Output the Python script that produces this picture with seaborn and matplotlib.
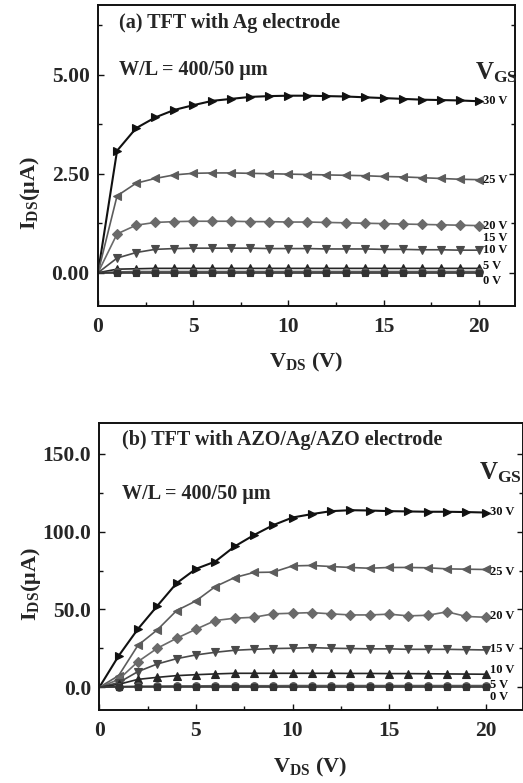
import numpy as np
import matplotlib
matplotlib.use("Agg")
import matplotlib.pyplot as plt
import seaborn as sns

# V_DS sweep (V)
vds = list(range(0, 21))
gate_labels = ["30 V", "25 V", "20 V", "15 V", "10 V", "5 V", "0 V"]

# (a) Ag electrode, I_DS in uA
ag_30 = [0, 3.08, 3.65, 3.92, 4.11, 4.23, 4.34, 4.39, 4.44, 4.46, 4.47, 4.47,
         4.46, 4.45, 4.43, 4.41, 4.39, 4.37, 4.36, 4.35, 4.33]
ag_25 = [0, 1.94, 2.26, 2.38, 2.47, 2.51, 2.52, 2.52, 2.51, 2.50, 2.49, 2.48,
         2.47, 2.46, 2.45, 2.43, 2.42, 2.40, 2.38, 2.36, 2.35]
ag_20 = [0, 0.98, 1.20, 1.27, 1.29, 1.30, 1.30, 1.30, 1.29, 1.29, 1.28, 1.28,
         1.27, 1.26, 1.25, 1.24, 1.23, 1.22, 1.21, 1.20, 1.19]
ag_15 = [0, 0.37, 0.51, 0.59, 0.61, 0.62, 0.62, 0.62, 0.62, 0.61, 0.61, 0.61,
         0.60, 0.60, 0.60, 0.59, 0.59, 0.58, 0.58, 0.57, 0.57]
ag_10 = [0, 0.09, 0.10, 0.11, 0.11, 0.11, 0.11, 0.11, 0.11, 0.11, 0.11, 0.11,
         0.11, 0.11, 0.11, 0.11, 0.11, 0.11, 0.11, 0.11, 0.11]
ag_5 = [0, 0.02, 0.03, 0.03, 0.03, 0.03, 0.03, 0.03, 0.03, 0.03, 0.03, 0.03,
        0.03, 0.03, 0.03, 0.03, 0.03, 0.03, 0.03, 0.03, 0.03]
ag_0 = [0] * 21

# (b) AZO/Ag/AZO electrode, I_DS in uA
azo_30 = [0, 20.2, 37.5, 52.3, 66.9, 76.1, 80.8, 90.5, 97.8, 104.2, 109.1, 111.3,
          113.2, 113.8, 113.6, 113.2, 113.0, 112.8, 112.8, 112.6, 112.3]
azo_25 = [0, 7.5, 27.0, 36.9, 49.3, 55.5, 64.7, 70.5, 73.8, 74.0, 78.0, 78.3,
          77.6, 77.0, 76.5, 77.0, 77.0, 76.8, 76.1, 75.9, 75.7]
azo_20 = [0, 5.0, 16.5, 25.1, 31.5, 37.3, 42.9, 44.4, 45.0, 47.2, 47.6, 48.0,
          47.2, 46.5, 46.5, 47.0, 45.9, 46.3, 48.5, 45.5, 45.0]
azo_15 = [0, 3.0, 10.1, 15.0, 18.4, 20.8, 22.5, 23.8, 24.4, 24.9, 25.1, 25.5,
          25.1, 24.9, 24.7, 24.7, 24.4, 24.4, 24.4, 24.2, 24.0]
azo_10 = [0, 1.9, 5.1, 6.4, 7.5, 8.1, 8.6, 9.0, 9.0, 9.0, 9.0, 9.0,
          9.0, 8.9, 8.9, 8.8, 8.8, 8.7, 8.6, 8.5, 8.4]
azo_5 = [0, 0.5, 0.7, 0.8, 0.9, 0.9, 1.0, 1.0, 1.0, 1.0, 1.1, 1.1,
         1.1, 1.1, 1.1, 1.1, 1.1, 1.1, 1.1, 1.1, 1.1]
azo_0 = [0] * 21

ag_series = [ag_30, ag_25, ag_20, ag_15, ag_10, ag_5, ag_0]
azo_series = [azo_30, azo_25, azo_20, azo_15, azo_10, azo_5, azo_0]

markers = [">", "<", "D", "v", "^", "o", "s"]
colors = ["#111111", "#5c5c5c", "#6a6a6a", "#4a4a4a", "#262626", "#555555", "#333333"]
msizes = [6, 6, 5, 6, 6, 5.5, 5]

# where the V_GS labels sit at the right end
ag_label_y = [4.33, 2.34, 1.19, 0.87, 0.57, 0.18, -0.20]
azo_label_y = [112.8, 73.8, 45.7, 24.4, 11.1, 1.7, -6.0]

sns.set_theme(style="ticks")
plt.rcParams["font.family"] = ["Liberation Serif", "DejaVu Serif"]
plt.rcParams["font.weight"] = "bold"
plt.rcParams["mathtext.fontset"] = "custom"
plt.rcParams["mathtext.rm"] = "Liberation Serif:bold"
plt.rcParams["mathtext.bf"] = "Liberation Serif:bold"
plt.rcParams["mathtext.it"] = "Liberation Serif:bold"

fig = plt.figure(figsize=(5.23, 7.83), dpi=100)
ax_a = fig.add_axes([0.1874, 0.6092, 0.7973, 0.3844])
ax_b = fig.add_axes([0.1899, 0.0932, 0.8101, 0.3669])


def draw_panel(ax, series, label_y, title, ylim, yticks, yminor, yfmt, xmax,
               ylab_pos, xlab_pos, title_pos, wl_pos, vgs_pos):
    for i, ys in enumerate(series):
        sns.lineplot(x=vds, y=ys, ax=ax, color=colors[i], marker=markers[i],
                     markersize=msizes[i], markeredgecolor=colors[i],
                     markeredgewidth=0.8, linewidth=1.5 if i == 0 else 1.2,
                     markevery=slice(1, None), errorbar=None, legend=False)
        ax.text(20.2, label_y[i], gate_labels[i], fontsize=9, fontweight="bold",
                va="center", ha="left", color="#111111")
    ax.set_xlim(0, xmax)
    ax.set_ylim(*ylim)
    ax.set_xticks([0, 5, 10, 15, 20])
    ax.set_xticks([2.5, 7.5, 12.5, 17.5], minor=True)
    ax.set_yticks(yticks)
    ax.set_yticks(yminor, minor=True)
    ax.set_yticklabels([yfmt.format(v) for v in yticks])
    ax.tick_params(which="both", direction="in", right=True, labelsize=15.5,
                   width=1.0, color="#111111")
    ax.tick_params(which="major", length=4)
    ax.tick_params(which="minor", length=3)
    ax.tick_params(axis="y", pad=6)
    ax.tick_params(axis="x", pad=8)
    for lab in ax.get_xticklabels() + ax.get_yticklabels():
        lab.set_fontweight("bold")
    for sp in ax.spines.values():
        sp.set_linewidth(1.4)
        sp.set_color("#111111")
    ax.set_ylabel(r"$\mathbf{I}_{\mathbf{DS}}$(μA)", fontsize=16, fontweight="bold")
    ax.set_xlabel(r"$\mathbf{V}_{\mathbf{DS}}$ (V)", fontsize=16, fontweight="bold")
    ax.yaxis.set_label_coords(*ylab_pos)
    ax.xaxis.set_label_coords(*xlab_pos)
    ax.text(title_pos[0], title_pos[1], title, transform=ax.transAxes,
            fontsize=14.5, fontweight="bold", va="center", ha="left")
    ax.text(wl_pos[0], wl_pos[1], "W/L = 400/50 μm", transform=ax.transAxes,
            fontsize=14.5, fontweight="bold", va="center", ha="left")
    ax.text(vgs_pos[0], vgs_pos[1], r"$\mathbf{V}_{\mathbf{GS}}$", transform=ax.transAxes,
            fontsize=18, fontweight="bold", va="center", ha="left")


draw_panel(ax_a, ag_series, ag_label_y, "(a) TFT with Ag electrode",
           (-0.84, 6.76), [0.0, 2.5, 5.0], [1.25, 3.75, 6.25], "{:.2f}", 21.9,
           (-0.134, 0.375), (0.5, -0.15), (0.05, 0.94), (0.05, 0.784), (0.905, 0.775))
draw_panel(ax_b, azo_series, azo_label_y, "(b) TFT with AZO/Ag/AZO electrode",
           (-14.6, 170), [0.0, 50.0, 100.0, 150.0], [25, 75, 125], "{:.1f}", 21.93,
           (-0.134, 0.44), (0.497, -0.16), (0.053, 0.94), (0.053, 0.752), (0.895, 0.825))

fig.savefig("out.png", dpi=100, facecolor="white")
